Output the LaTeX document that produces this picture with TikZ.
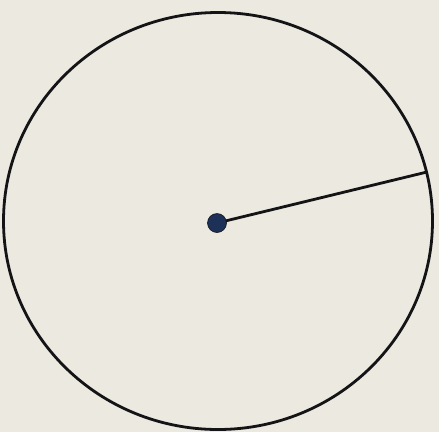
\documentclass[tikz,border=0pt]{standalone}
\definecolor{paper}{RGB}{236,233,224}
\definecolor{ink}{RGB}{20,20,22}
\definecolor{dotblue}{RGB}{28,48,88}
\tikzset{
  outline/.style={draw=ink,line width=2.8pt},
  radiusline/.style={draw=ink,line width=2.8pt},
  centerdot/.style={circle,fill=dotblue,draw=ink,line width=0.6pt,minimum size=19pt,inner sep=0pt}
}
\begin{document}
\begin{tikzpicture}[x=1pt,y=-1pt]
\fill[paper] (0,0) rectangle (439,432);
\useasboundingbox (0,0) rectangle (439,432);
\draw[outline] (218,221) ellipse [x radius=214.5, y radius=208.5];
\coordinate (p) at (427,172);
\coordinate (o) at (217,223);
\draw[radiusline] (o) -- (p);
\node[centerdot] (c) at (o) {};
\end{tikzpicture}
\end{document}
